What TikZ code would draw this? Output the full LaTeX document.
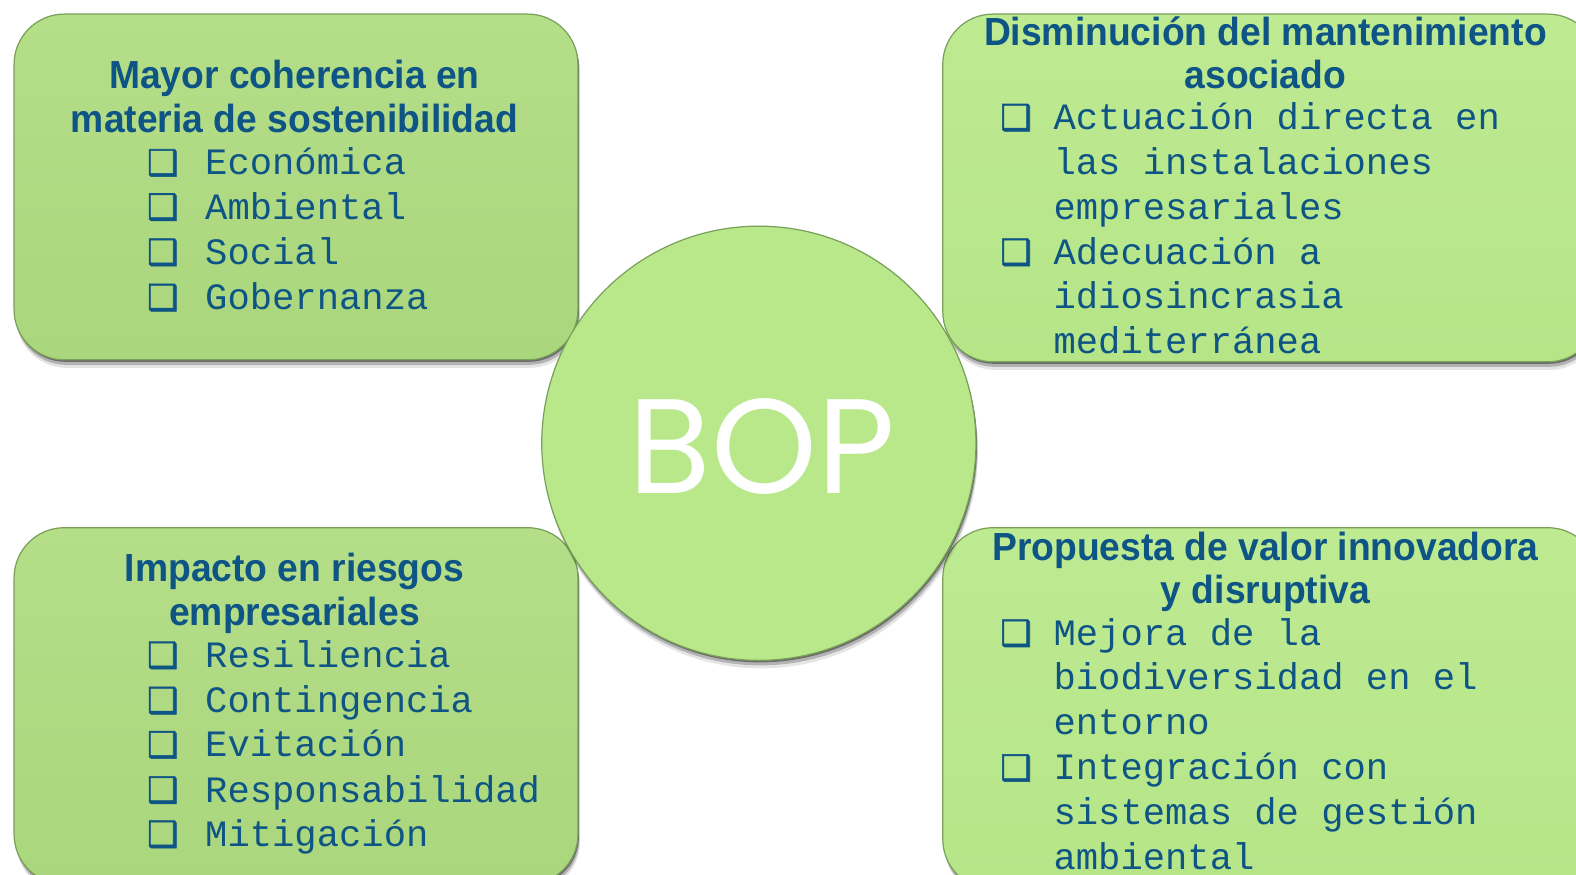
\documentclass[tikz,border=0pt]{standalone}
\usepackage{fontspec}
\setmainfont{Liberation Sans}
\newfontfamily\headfont{Liberation Sans}[FakeStretch=0.95]
\newfontfamily\itemfont{Liberation Mono}
\newfontfamily\chkfont{DejaVu Sans}[FakeBold=1.6]
\newfontfamily\bopfont{Poppins}
\usetikzlibrary{shadows}

\definecolor{leftgreen}{RGB}{170,214,125}
\definecolor{leftgreentop}{RGB}{180,222,136}
\definecolor{rightgreen}{RGB}{182,229,136}
\definecolor{rightgreentop}{RGB}{190,234,145}
\definecolor{circgreen}{RGB}{184,232,138}
\definecolor{edgegreen}{RGB}{120,160,88}
\definecolor{textblue}{RGB}{14,84,132}

\begin{document}
\begin{tikzpicture}[x=1pt, y=-1pt,
    softshadow/.style={
        drop shadow={shadow xshift=1pt, shadow yshift=-2pt, opacity=0.4, fill=black},
        drop shadow={shadow xshift=1.5pt, shadow yshift=-5pt, opacity=0.22, fill=black},
        drop shadow={shadow xshift=2pt, shadow yshift=-8pt, opacity=0.1, fill=black}},
    box/.style={rectangle, rounded corners=50pt, draw=edgegreen, line width=1.2pt, softshadow},
    leftbox/.style={box, top color=leftgreentop, bottom color=leftgreen},
    rightbox/.style={box, top color=rightgreentop, bottom color=rightgreen},
    head/.style={inner sep=0pt, anchor=base, text=textblue,
        font=\headfont\bfseries\fontsize{39}{44}\selectfont},
    itm/.style={inner sep=0pt, anchor=base west, text=textblue,
        font=\itemfont\fontsize{37}{44.5}\selectfont},
    chk/.style={inner sep=0pt, anchor=base west, text=textblue,
        font=\chkfont\fontsize{35}{44.5}\selectfont}]
    \useasboundingbox (0,0) rectangle (1568,870);
    \clip (0,0) rectangle (1568,870);

    % four boxes
    \node[leftbox, minimum width=561pt, minimum height=344pt] (tlbox) at (294.5,186) {};
    \node[rightbox, minimum width=652pt, minimum height=346pt] (trbox) at (1264,187) {};
    \node[leftbox, minimum width=561pt, minimum height=355pt] (blbox) at (294.5,702.5) {};
    \node[rightbox, minimum width=652pt, minimum height=360pt] (brbox) at (1264,705) {};

    % centre
    \node[circle, minimum size=432pt, draw=edgegreen, line width=1.2pt, fill=circgreen,
        softshadow] (bop) at (755,441) {};
    \node[inner sep=0pt, text=white, font=\bopfont\fontsize{134}{134}\selectfont]
        (boptext) at (758,444) {BOP};

    % top left
    \node[head] (tlh1) at (293,88) {Mayor coherencia en};
    \node[head] (tlh2) at (293,132) {materia de sostenibilidad};
    \node[chk] (tlc1) at (146,174) {❑};
    \node[itm] (tl1) at (204,174) {Económica};
    \node[chk] (tlc2) at (146,218) {❑};
    \node[itm] (tl2) at (204,218) {Ambiental};
    \node[chk] (tlc3) at (146,263) {❑};
    \node[itm] (tl3) at (204,263) {Social};
    \node[chk] (tlc4) at (146,308) {❑};
    \node[itm] (tl4) at (204,308) {Gobernanza};

    % top right
    \node[head] (trh1) at (1259,45) {Disminución del mantenimiento};
    \node[head] (trh2) at (1259,88) {asociado};
    \node[chk] (trc1) at (995,129) {❑};
    \node[itm] (tr1) at (1048,129) {Actuación directa en};
    \node[itm] (tr2) at (1048,174) {las instalaciones};
    \node[itm] (tr3) at (1048,218) {empresariales};
    \node[chk] (trc2) at (995,263) {❑};
    \node[itm] (tr4) at (1048,263) {Adecuación a};
    \node[itm] (tr5) at (1048,307) {idiosincrasia};
    \node[itm] (tr6) at (1048,352) {mediterránea};

    % bottom left
    \node[head] (blh1) at (293,579) {Impacto en riesgos};
    \node[head] (blh2) at (293,622) {empresariales};
    \node[chk] (blc1) at (146,664) {❑};
    \node[itm] (bl1) at (204,664) {Resiliencia};
    \node[chk] (blc2) at (146,709) {❑};
    \node[itm] (bl2) at (204,709) {Contingencia};
    \node[chk] (blc3) at (146,753) {❑};
    \node[itm] (bl3) at (204,753) {Evitación};
    \node[chk] (blc4) at (146,798) {❑};
    \node[itm] (bl4) at (204,798) {Responsabilidad};
    \node[chk] (blc5) at (146,842) {❑};
    \node[itm] (bl5) at (204,842) {Mitigación};

    % bottom right
    \node[head] (brh1) at (1259,558) {Propuesta de valor innovadora};
    \node[head] (brh2) at (1259,600) {y disruptiva};
    \node[chk] (brc1) at (995,642) {❑};
    \node[itm] (br1) at (1048,642) {Mejora de la};
    \node[itm] (br2) at (1048,686) {biodiversidad en el};
    \node[itm] (br3) at (1048,731) {entorno};
    \node[chk] (brc2) at (995,776) {❑};
    \node[itm] (br4) at (1048,776) {Integración con};
    \node[itm] (br5) at (1048,820) {sistemas de gestión};
    \node[itm] (br6) at (1048,865) {ambiental};
\end{tikzpicture}
\end{document}
